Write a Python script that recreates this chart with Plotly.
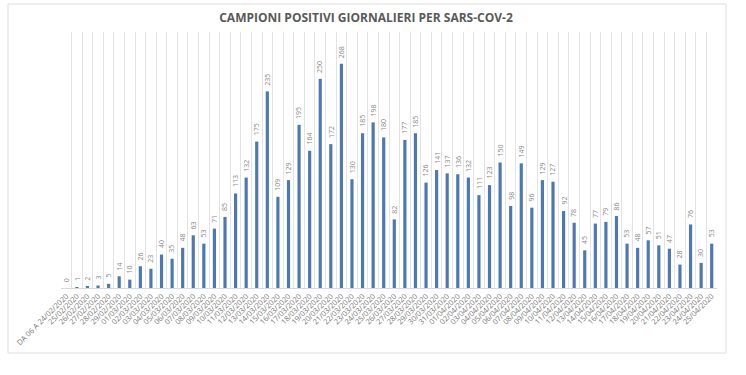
import plotly.graph_objects as go

dates = ["DA 06 A 24/02/2020"] + [f"{d:02d}/02/2020" for d in range(25, 30)] \
    + [f"{d:02d}/03/2020" for d in range(1, 32)] + [f"{d:02d}/04/2020" for d in range(1, 26)]

values = [0, 1, 2, 3, 5, 14, 10, 26, 23, 40,
          35, 48, 63, 53, 71, 85, 113, 132, 175, 235,
          109, 129, 195, 164, 250, 172, 268, 130, 185, 198,
          180, 82, 177, 185, 126, 141, 137, 136, 132, 111,
          123, 150, 98, 149, 96, 129, 127, 92, 78, 45,
          77, 79, 86, 53, 48, 57, 51, 47, 28, 76,
          30, 53]

title_text = "CAMPIONI POSITIVI GIORNALIERI PER SARS-COV-2"

L, R, T, B = 61, 717, 32, 288
W, H = 746, 375

fig = go.Figure(go.Bar(
    x=dates, y=values,
    marker=dict(color="#4c78b4", line=dict(width=0)),
    width=0.3,
    cliponaxis=False,
))

for d, v in zip(dates, values):
    fig.add_annotation(x=d, y=v, text=str(v), showarrow=False,
                       textangle=-90, xanchor="center", yanchor="bottom",
                       yshift=4, font=dict(size=7, color="#8a8a8a", family="Open Sans"))

def px_to_paper_x(px):
    return (px - L) / (R - L)

def px_to_paper_y(py):
    return (B - py) / (B - T)

fig.add_shape(type="rect", xref="paper", yref="paper",
              x0=px_to_paper_x(8), x1=px_to_paper_x(726),
              y0=px_to_paper_y(353), y1=px_to_paper_y(4),
              line=dict(color="#dedede", width=1), fillcolor="rgba(0,0,0,0)", layer="below")

fig.update_layout(
    width=W, height=H,
    margin=dict(l=L, r=W - R, t=T, b=H - B),
    paper_bgcolor="white", plot_bgcolor="white",
    showlegend=False,
    title=dict(text=f"<b>{title_text}</b>", x=366 / W, xanchor="center",
               y=1 - 18 / H, yanchor="middle",
               font=dict(family="Open Sans", size=12, color="#595959")),
    xaxis=dict(type="category", tickson="boundaries", showgrid=True,
               gridcolor="#e3e3e3", gridwidth=1,
               tickangle=-45, ticks="", ticklen=0,
               tickfont=dict(family="Open Sans", size=7.5, color="#777777"),
               showline=True, linecolor="#d9d9d9", linewidth=1,
               range=[-0.5, len(dates) - 0.5]),
    yaxis=dict(range=[0, 306], showgrid=False, showticklabels=False,
               zeroline=False, showline=False, ticks=""),
    bargap=0.7,
)

fig.write_html("out.html")
